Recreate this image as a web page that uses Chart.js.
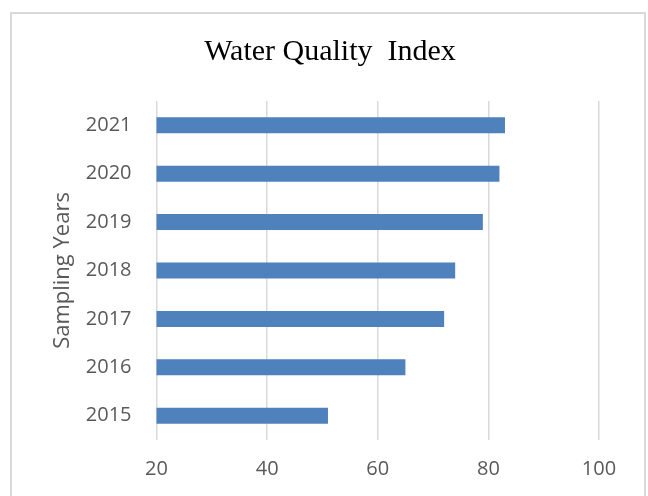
<!DOCTYPE html>
<html>
<head>
<meta charset="utf-8">
<title>Water Quality Index</title>
<script src="https://cdn.jsdelivr.net/npm/chart.js@4"></script>
<style>
    html, body { margin: 0; padding: 0; background: #fff; overflow: hidden; }
    #frame {
        position: absolute; left: 10px; top: 12px;
        width: 632px; height: 490px;
        border: 2px solid #d9d9d9;
    }
</style>
</head>
<body>
<div id="frame"><canvas id="chart-wqi"></canvas></div>
<script>
// Water Quality Index — horizontal bars per sampling year

const years = ['2015', '2016', '2017', '2018', '2019', '2020', '2021'];
const wqiValues = [51, 65, 72, 74, 79, 82, 83];
const xTicks = [20, 40, 60, 80, 100];
const chartTitle = 'Water Quality  Index';

const TICK_GREY = '#595959';
const GRID_GREY = '#d9d9d9';

// ---------- Title (centred on the whole frame, not the padded area) ----------
const frameTitle = {
    id: 'frameTitle',
    afterDraw(chart) {
        const c = chart.ctx;
        c.save();
        c.font = '30px "Liberation Serif", "Times New Roman", serif';
        c.fillStyle = '#000';
        c.textAlign = 'center';
        c.textBaseline = 'alphabetic';
        c.fillText(chartTitle, 318, 45.5);
        c.restore();
    }
};

// ---------- Chart ----------
const ctx = document.getElementById('chart-wqi').getContext('2d');
new Chart(ctx, {
    type: 'bar',
    data: {
        labels: years,
        datasets: [{
            label: 'Water Quality Index',
            data: wqiValues,
            backgroundColor: '#4f81bd',
            borderWidth: 0,
            categoryPercentage: 1,
            barPercentage: 0.33
        }]
    },
    options: {
        indexAxis: 'y',
        responsive: true,
        maintainAspectRatio: false,
        animation: false,
        layout: { padding: { left: 0, right: 45, top: 87, bottom: 4 } },
        plugins: {
            legend: { display: false },
            tooltip: { enabled: false },
            title: { display: false }
        },
        scales: {
            x: {
                min: xTicks[0],
                max: xTicks[xTicks.length - 1],
                afterBuildTicks: s => { s.ticks = xTicks.map(v => ({ value: v })); },
                afterFit: s => { s.height = 60; },
                border: { display: false },
                grid: { color: GRID_GREY, lineWidth: 1.5, drawTicks: false },
                ticks: {
                    padding: 17,
                    color: TICK_GREY,
                    font: { family: '"Open Sans", sans-serif', size: 20 }
                }
            },
            y: {
                reverse: true,
                afterFit: s => { s.width = 144.5; },
                border: { display: false },
                grid: { display: false, drawTicks: false },
                ticks: {
                    padding: 25,
                    color: TICK_GREY,
                    font: { family: '"Open Sans", sans-serif', size: 20 }
                },
                title: {
                    display: true,
                    text: 'Sampling Years',
                    color: TICK_GREY,
                    font: { family: '"Open Sans", sans-serif', size: 22 },
                    padding: { top: 38, bottom: 0 }
                }
            }
        }
    },
    plugins: [frameTitle]
});
</script>
</body>
</html>
